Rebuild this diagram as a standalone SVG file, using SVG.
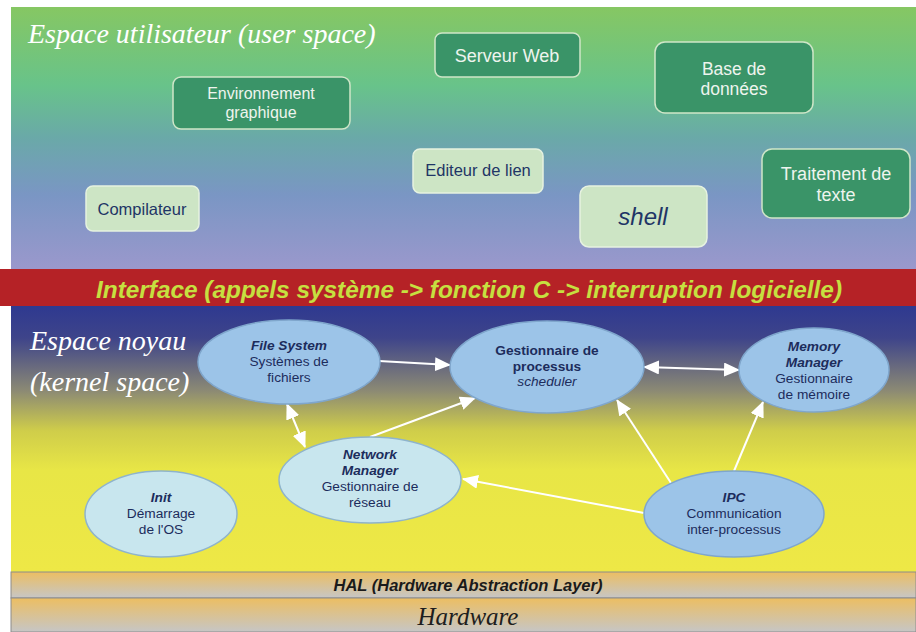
<svg xmlns="http://www.w3.org/2000/svg" width="916" height="632" viewBox="0 0 916 632">
<defs>
<linearGradient id="gUser" x1="0" y1="7" x2="0" y2="268" gradientUnits="userSpaceOnUse">
<stop offset="0" stop-color="#86c763"/>
<stop offset="0.3" stop-color="#68c38a"/>
<stop offset="0.5" stop-color="#6aa9a8"/>
<stop offset="0.72" stop-color="#7a96c4"/>
<stop offset="1" stop-color="#9a98cc"/>
</linearGradient>
<linearGradient id="gKernel" x1="0" y1="306" x2="0" y2="571" gradientUnits="userSpaceOnUse">
<stop offset="0" stop-color="#2e3990"/>
<stop offset="0.12" stop-color="#3e448a"/>
<stop offset="0.32" stop-color="#8c8a74"/>
<stop offset="0.47" stop-color="#cfcd4a"/>
<stop offset="0.62" stop-color="#e8e646"/>
<stop offset="1" stop-color="#eee846"/>
</linearGradient>
<linearGradient id="gHw" x1="0" y1="0" x2="0" y2="1">
<stop offset="0" stop-color="#ecbe62"/>
<stop offset="1" stop-color="#c6c6c6"/>
</linearGradient>
<marker id="ah" markerUnits="userSpaceOnUse" markerWidth="16" markerHeight="14" refX="15" refY="7" orient="auto-start-reverse">
<path d="M0,0 L16,7 L0,14 Z" fill="#ffffff"/>
</marker>
<style>
.title{font-family:"Liberation Serif",serif;font-style:italic;fill:#ffffff;font-size:28px}
.box-dark{fill:#3a9468;stroke:#cfe6c8;stroke-width:1.5}
.box-light{fill:#cde5c5;stroke:#e6f2e0;stroke-width:1.5}
.t-dark{font-family:"Liberation Sans",Arial,sans-serif;fill:#eef4ee;text-anchor:middle}
.t-light{font-family:"Liberation Sans",Arial,sans-serif;fill:#1f3566;text-anchor:middle}
.ell{fill:#9cc4e8;stroke:#7fa6cc;stroke-width:1.5}
.ell-l{fill:#c8e6ee;stroke:#8fb4cc;stroke-width:1.5}
.et{font-family:"Liberation Sans",Arial,sans-serif;fill:#1c2c5c;text-anchor:middle;font-size:13.7px}
.bi{font-weight:bold;font-style:italic}
.b{font-weight:bold}
.i{font-style:italic}
.conn{stroke:#ffffff;stroke-width:2;fill:none}
</style>
</defs>

<g id="bands">
<rect x="11" y="7" width="905" height="262" fill="url(#gUser)"/>
<rect x="11" y="306" width="905" height="266" fill="url(#gKernel)"/>
<rect x="0" y="269" width="916" height="37" fill="#b52226"/>
<rect x="11" y="572" width="905" height="26" fill="url(#gHw)" stroke="#8c8c8c" stroke-width="1"/>
<rect x="11" y="598" width="905" height="34" fill="url(#gHw)" stroke="#8c8c8c" stroke-width="1"/>
</g>

<g id="labels">
<text class="title" x="28" y="43">Espace utilisateur (user space)</text>
<text class="title" x="30" y="350">Espace noyau</text>
<text class="title" x="30" y="391">(kernel space)</text>
<text x="469" y="298" text-anchor="middle" font-family="'Liberation Sans',Arial,sans-serif" font-weight="bold" font-style="italic" font-size="23" fill="#c6e040" textLength="746" lengthAdjust="spacingAndGlyphs">Interface (appels système -&gt; fonction C -&gt; interruption logicielle)</text>
<text x="468" y="591" text-anchor="middle" font-family="'Liberation Sans',Arial,sans-serif" font-weight="bold" font-style="italic" font-size="16" fill="#1a1a1a" textLength="269" lengthAdjust="spacingAndGlyphs">HAL (Hardware Abstraction Layer)</text>
<text x="468" y="625" text-anchor="middle" font-family="'Liberation Serif',serif" font-style="italic" font-size="25" fill="#1e1e1e">Hardware</text>
</g>

<g id="serveur-web">
<rect class="box-dark" x="435" y="33" width="145" height="44" rx="7"/>
<text class="t-dark" x="507" y="62" font-size="18">Serveur Web</text>
</g>
<g id="environnement-graphique">
<rect class="box-dark" x="173" y="77" width="177" height="52" rx="8"/>
<text class="t-dark" x="261" y="99" font-size="16">Environnement</text>
<text class="t-dark" x="261" y="118" font-size="16">graphique</text>
</g>
<g id="base-de-donnees">
<rect class="box-dark" x="655" y="42" width="158" height="71" rx="10"/>
<text class="t-dark" x="734" y="75" font-size="17.5">Base de</text>
<text class="t-dark" x="734" y="95" font-size="17.5">données</text>
</g>
<g id="editeur-de-lien">
<rect class="box-light" x="413" y="149" width="130" height="44" rx="7"/>
<text class="t-light" x="478" y="176" font-size="16.5">Editeur de lien</text>
</g>
<g id="compilateur">
<rect class="box-light" x="86" y="186" width="113" height="45" rx="7"/>
<text class="t-light" x="142" y="215" font-size="16.5">Compilateur</text>
</g>
<g id="shell">
<rect class="box-light" x="580" y="186" width="127" height="61" rx="9"/>
<text class="t-light i" x="643" y="225" font-size="24">shell</text>
</g>
<g id="traitement-de-texte">
<rect class="box-dark" x="762" y="149" width="148" height="69" rx="10"/>
<text class="t-dark" x="836" y="180" font-size="18">Traitement de</text>
<text class="t-dark" x="836" y="201" font-size="18">texte</text>
</g>

<g id="connectors">
<line class="conn" x1="379" y1="361" x2="450" y2="365" marker-end="url(#ah)"/>
<line class="conn" x1="287" y1="404" x2="305" y2="447" marker-start="url(#ah)" marker-end="url(#ah)"/>
<line class="conn" x1="370" y1="437" x2="475" y2="398" marker-end="url(#ah)"/>
<line class="conn" x1="644" y1="367" x2="739" y2="370" marker-start="url(#ah)" marker-end="url(#ah)"/>
<line class="conn" x1="671" y1="483" x2="617" y2="400" marker-end="url(#ah)"/>
<line class="conn" x1="734" y1="471" x2="763" y2="402" marker-end="url(#ah)"/>
<line class="conn" x1="644" y1="513" x2="463" y2="479" marker-end="url(#ah)"/>
</g>

<g id="file-system">
<ellipse class="ell" cx="289" cy="362" rx="91" ry="42"/>
<text class="et bi" x="289" y="350">File System</text>
<text class="et" x="289" y="366">Systèmes de</text>
<text class="et" x="289" y="382">fichiers</text>
</g>
<g id="gestionnaire-processus">
<ellipse class="ell" cx="547" cy="367" rx="97" ry="46"/>
<text class="et b" x="547" y="355">Gestionnaire de</text>
<text class="et b" x="547" y="371">processus</text>
<text class="et i" x="547" y="386">scheduler</text>
</g>
<g id="memory-manager">
<ellipse class="ell" cx="814" cy="370" rx="75" ry="42"/>
<text class="et bi" x="814" y="351">Memory</text>
<text class="et bi" x="814" y="367">Manager</text>
<text class="et" x="814" y="383">Gestionnaire</text>
<text class="et" x="814" y="399">de mémoire</text>
</g>
<g id="network-manager">
<ellipse class="ell-l" cx="370" cy="480" rx="91" ry="43"/>
<text class="et bi" x="370" y="459">Network</text>
<text class="et bi" x="370" y="475">Manager</text>
<text class="et" x="370" y="491">Gestionnaire de</text>
<text class="et" x="370" y="507">réseau</text>
</g>
<g id="init">
<ellipse class="ell-l" cx="161" cy="514" rx="76" ry="43"/>
<text class="et bi" x="161" y="502">Init</text>
<text class="et" x="161" y="518">Démarrage</text>
<text class="et" x="161" y="534">de l'OS</text>
</g>
<g id="ipc">
<ellipse class="ell" cx="734" cy="514" rx="90" ry="43"/>
<text class="et bi" x="734" y="502">IPC</text>
<text class="et" x="734" y="518">Communication</text>
<text class="et" x="734" y="534">inter-processus</text>
</g>
</svg>
